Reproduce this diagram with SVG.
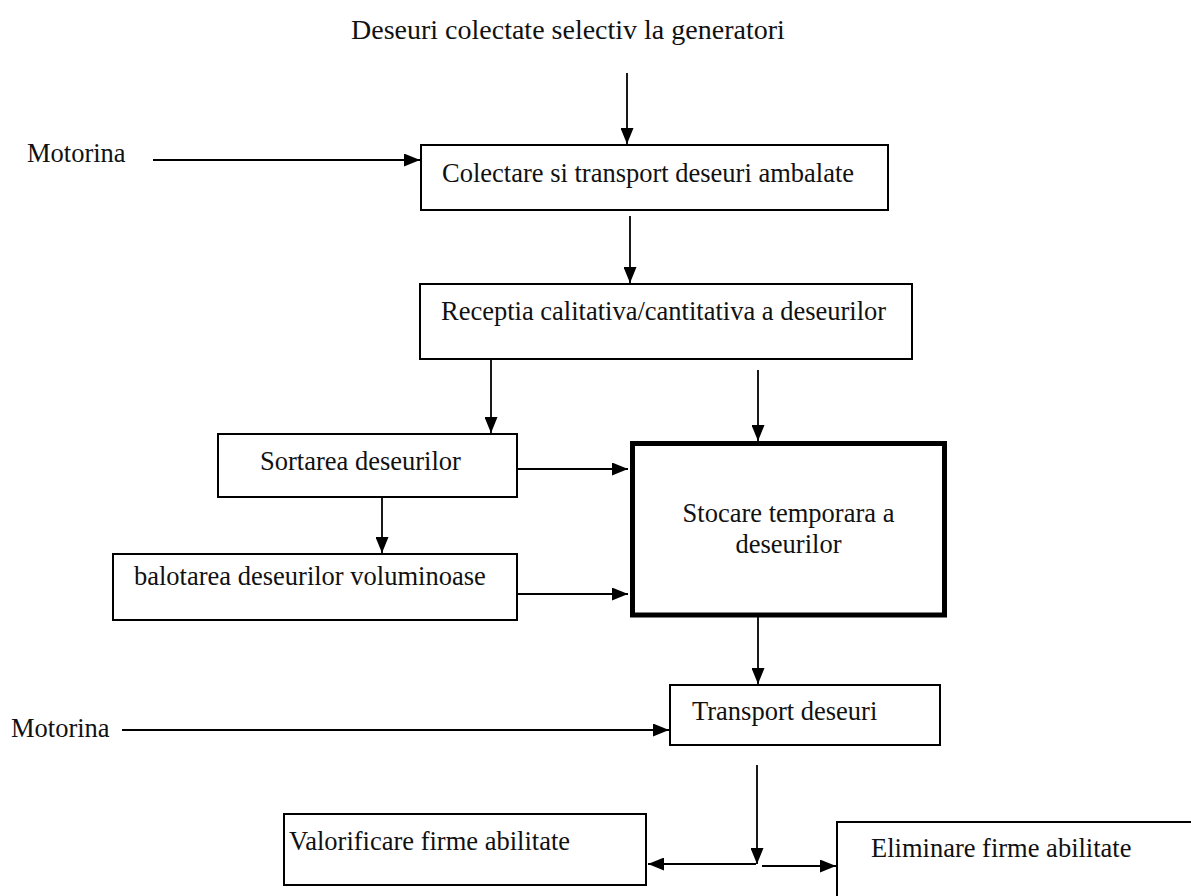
<svg xmlns="http://www.w3.org/2000/svg" width="1191" height="896" viewBox="0 0 1191 896">
  <style>
    .box { fill: #fff; stroke: #000; stroke-width: 2; }
    .thick { fill: #fff; stroke: #000; stroke-width: 5; }
    .t { font-family: "Liberation Serif", "Times New Roman", serif; font-size: 26.5px; fill: #111; }
    .title { font-family: "Liberation Serif", "Times New Roman", serif; font-size: 28px; fill: #111; }
    .c { fill: none; stroke: #000; stroke-width: 1.8; marker-end: url(#ah); }
  </style>
  <defs>
    <marker id="ah" markerUnits="userSpaceOnUse" viewBox="0 0 16 13" markerWidth="16" markerHeight="13" refX="16" refY="6.5" orient="auto">
      <path d="M0,0 L16,6.5 L0,13 z" fill="#000"/>
    </marker>
  </defs>
  <rect width="1191" height="896" fill="#fff"/>

  <text class="title" x="351" y="39">Deseuri colectate selectiv la generatori</text>

  <g id="n-colectare">
    <rect class="box" x="421" y="145" width="467" height="65"/>
    <text class="t" x="442" y="182">Colectare si transport deseuri ambalate</text>
  </g>
  <g id="n-motorina1">
    <text class="t" x="27" y="162">Motorina</text>
  </g>
  <g id="n-receptia">
    <rect class="box" x="420" y="284" width="492" height="75"/>
    <text class="t" x="441" y="320">Receptia calitativa/cantitativa a deseurilor</text>
  </g>
  <g id="n-sortarea">
    <rect class="box" x="218" y="434" width="299" height="63"/>
    <text class="t" x="260" y="470">Sortarea deseurilor</text>
  </g>
  <g id="n-balotarea">
    <rect class="box" x="113" y="554" width="404" height="66"/>
    <text class="t" x="134" y="585">balotarea deseurilor voluminoase</text>
  </g>
  <g id="n-stocare">
    <rect class="thick" x="632.5" y="443.5" width="312" height="171.5"/>
    <text class="t" x="788.5" y="522" text-anchor="middle">Stocare temporara a</text>
    <text class="t" x="788.5" y="553" text-anchor="middle">deseurilor</text>
  </g>
  <g id="n-transport">
    <rect class="box" x="670" y="685" width="270" height="60"/>
    <text class="t" x="692" y="720">Transport deseuri</text>
  </g>
  <g id="n-motorina2">
    <text class="t" x="11" y="737">Motorina</text>
  </g>
  <g id="n-valorificare">
    <rect class="box" x="284" y="814" width="362" height="71"/>
    <text class="t" x="289" y="850">Valorificare firme abilitate</text>
  </g>
  <g id="n-eliminare">
    <path d="M837,898 V822 H1193" fill="none" stroke="#000" stroke-width="2"/>
    <text class="t" x="871" y="857">Eliminare firme abilitate</text>
  </g>

  <g id="connectors">
    <line class="c" x1="627" y1="73" x2="627" y2="144"/>
    <line class="c" x1="153" y1="160" x2="420" y2="160"/>
    <line class="c" x1="630" y1="216" x2="630" y2="283"/>
    <line class="c" x1="491" y1="360" x2="491" y2="433"/>
    <line class="c" x1="758" y1="370" x2="758" y2="441"/>
    <line class="c" x1="382" y1="498" x2="382" y2="553"/>
    <line class="c" x1="518" y1="469" x2="628" y2="469"/>
    <line class="c" x1="518" y1="594" x2="628" y2="594"/>
    <line class="c" x1="758" y1="617" x2="758" y2="684"/>
    <line class="c" x1="122" y1="730" x2="669" y2="730"/>
    <line class="c" x1="757" y1="765" x2="757" y2="864"/>
    <line class="c" x1="756" y1="864" x2="648" y2="864"/>
    <line class="c" x1="762" y1="866" x2="836" y2="866"/>
  </g>
</svg>
